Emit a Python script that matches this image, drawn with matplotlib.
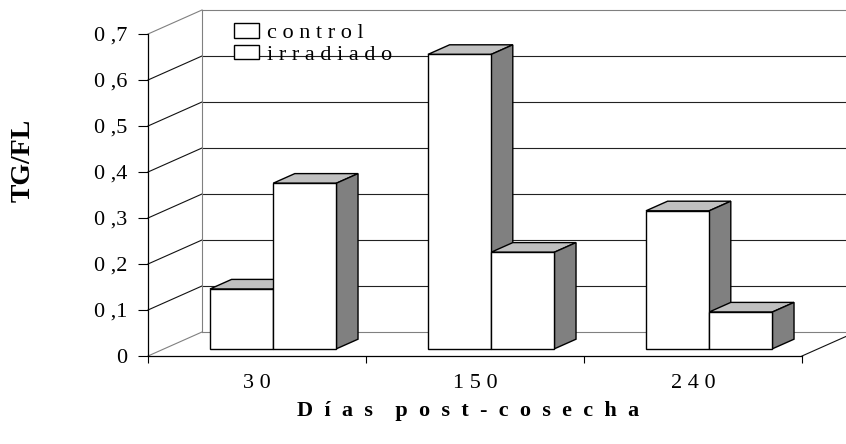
import numpy as np
import matplotlib
matplotlib.use('Agg')
import matplotlib.pyplot as plt
from matplotlib.patches import Polygon

# data
categorias = ['3 0', '1 5 0', '2 4 0']
control = [0.13, 0.64, 0.30]
irradiado = [0.36, 0.21, 0.08]
series_labels = ['c o n t r o l', 'i r r a d i a d o']
yticks = [0, 0.1, 0.2, 0.3, 0.4, 0.5, 0.6, 0.7]
ytick_labels = ['0', '0 ,1', '0 ,2', '0 ,3', '0 ,4', '0 ,5', '0 ,6', '0 ,7']

plt.rcParams['font.family'] = ['Liberation Serif', 'DejaVu Serif']

# pseudo-3d geometry (in data units)
PX_X = 218.0      # pixels per category
PX_Y = 460.0      # pixels per unit of TG/FL
DX = 54 / PX_X    # depth offset of back wall
DY = 24 / PX_Y
F0, F1 = 0.3, 0.7  # depth range of bars
GAP, W = 0.21, 0.29
top_col = '#c0c0c0'
side_col = '#808080'
wall_col = '#808080'

fig = plt.figure(figsize=(8.46, 4.44), dpi=100)
ax = fig.add_axes([0, 0, 1, 1])
ax.set_xlim(-148 / PX_X, (846 - 148) / PX_X)
ax.set_ylim(-(444 - 356) / PX_Y, 0.7 + 34 / PX_Y)
ax.patch.set_visible(False)

ncat = len(categorias)
ymax = yticks[-1]

# walls and gridlines
for v in yticks:
    edge = v in (0, ymax)
    ax.plot([0, DX], [v, v + DY], color=wall_col if edge else '#111111', lw=0.8, zorder=1)
    ax.plot([DX, ncat + DX], [v + DY, v + DY], color=wall_col if edge else '#222222',
            lw=0.8, zorder=1)
ax.plot([DX, DX], [DY, ymax + DY], color=wall_col, lw=0.8, zorder=1)
ax.plot([ncat, ncat + DX], [0, DY], color='#111111', lw=0.8, zorder=1)

# bars
x = np.arange(ncat)
bars = []
ddx = (F1 - F0) * DX
ddy = (F1 - F0) * DY
for k, vals in enumerate([control, irradiado]):
    left = x + GAP + k * W + F0 * DX
    b = ax.bar(left, vals, width=W, bottom=F0 * DY, align='edge', color='white',
               edgecolor='black', linewidth=1.0, zorder=3 + k * 0.1, label=series_labels[k])
    bars.append(b)
    for xl, v in zip(left, vals):
        top = v + F0 * DY
        ax.add_patch(Polygon([(xl, top), (xl + W, top), (xl + W + ddx, top + ddy), (xl + ddx, top + ddy)],
                             closed=True, facecolor=top_col, edgecolor='black', lw=1.0,
                             zorder=2.9 + k * 0.1))
        ax.add_patch(Polygon([(xl + W, F0 * DY), (xl + W + ddx, F0 * DY + ddy),
                              (xl + W + ddx, top + ddy), (xl + W, top)],
                             closed=True, facecolor=side_col, edgecolor='black', lw=1.0,
                             zorder=2.9 + k * 0.1))

# axes
for s in ['top', 'right']:
    ax.spines[s].set_visible(False)
ax.spines['left'].set_position(('data', 0))
ax.spines['bottom'].set_position(('data', 0))
ax.spines['left'].set_bounds(0, ymax)
ax.spines['bottom'].set_bounds(0, ncat)
ax.spines['left'].set_linewidth(0.9)
ax.spines['bottom'].set_linewidth(0.9)
ax.set_yticks(yticks)
ax.set_yticklabels(ytick_labels)
ax.tick_params(axis='y', direction='out', length=7.2, width=0.8, pad=8, labelsize=16)
ax.set_xticks(np.arange(ncat + 1))
ax.set_xticklabels([])
ax.tick_params(axis='x', which='major', direction='out', length=5, width=0.8)
ax.set_xticks(x + 0.5, minor=True)
ax.set_xticklabels(categorias, minor=True)
ax.tick_params(axis='x', which='minor', length=0, pad=13, labelsize=16)

fig.text(468 / 846, 1 - 411 / 444, 'D  í  a  s    p  o  s  t  -  c  o  s  e  c  h  a',
         ha='center', va='center', fontsize=16, fontweight='bold')
fig.text(23 / 846, 1 - 160 / 444, 'TG/FL', rotation=90, ha='center', va='center',
         fontsize=20, fontweight='bold')

ax.legend(handles=bars, loc='upper left', bbox_to_anchor=(234 / 846, 1 - 23 / 444),
          bbox_transform=fig.transFigure, frameon=False, fontsize=16, borderpad=0,
          borderaxespad=0, handlelength=1.13, handleheight=0.63, handletextpad=0.35,
          labelspacing=0.08)

fig.savefig('out.png', dpi=100)
